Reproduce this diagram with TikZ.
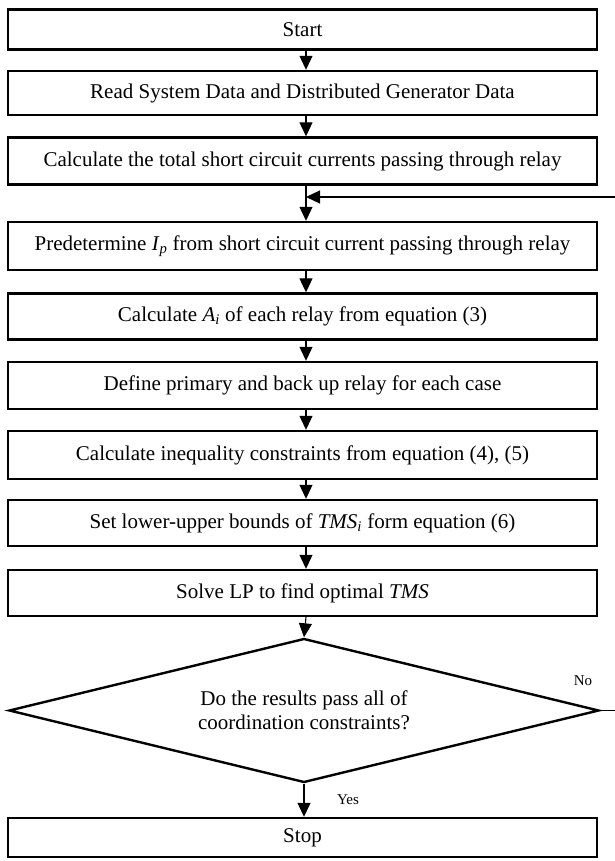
\documentclass[tikz,border=0pt]{standalone}
\usepackage{fontspec}
\setmainfont{Liberation Serif}
\usetikzlibrary{arrows.meta,shapes.geometric}

\begin{document}
\begin{tikzpicture}[x=1pt,y=-1pt,
    stepbox/.style={draw,line width=2.4pt,minimum width=589pt,minimum height=46pt,
      inner sep=0pt,font=\fontsize{21}{25}\selectfont},
    decision/.style={draw,diamond,line width=2.4pt,minimum width=590pt,minimum height=144pt,
      inner sep=0pt,aspect=4,align=center,font=\fontsize{21}{24}\selectfont},
    flow/.style={line width=1.1pt,-{Triangle[length=14pt,width=13pt]}},
    tag/.style={font=\fontsize{15}{17}\selectfont}]
  \def\midX{302.5};
  \def\arrX{306};
  \useasboundingbox (0,0) rectangle (614,861);
  \coordinate (axis)  at (\arrX,0);
  \coordinate (loop)  at (640,0);
  \coordinate (merge) at (\arrX,197);
  %
  \draw (\midX,29.5)  node[stepbox,minimum height=40pt] (start) {Start};
  \draw (\midX,93)    node[stepbox,minimum height=44pt] (read)  {Read System Data and Distributed Generator Data};
  \draw (\midX,161)   node[stepbox,minimum height=47pt] (total) {Calculate the total short circuit currents passing through relay};
  \draw (\midX,246)   node[stepbox,minimum height=48pt] (pred)  {Predetermine \textit{I}\textsubscript{\textit{p}} from short circuit current passing through relay};
  \draw (\midX,316.5) node[stepbox] (coefA) {Calculate \textit{A}\textsubscript{\textit{i}} of each relay from equation (3)};
  \draw (\midX,385.5) node[stepbox,minimum height=47pt] (pairs) {Define primary and back up relay for each case};
  \draw (\midX,455)   node[stepbox,minimum height=48pt] (ineq)  {Calculate inequality constraints from equation (4), (5)};
  \draw (\midX,523)   node[stepbox] (bounds) {Set lower-upper bounds of \textit{TMS}\textsubscript{\textit{i}} form equation (6)};
  \draw (\midX,593)   node[stepbox] (solve) {Solve LP to find optimal \textit{TMS}};
  \draw (304,710.5)   node[decision] (check) {Do the results pass all of\\coordination constraints?};
  \draw (\midX,837.5) node[stepbox,minimum height=39pt] (stop)  {Stop};
  %
  \draw (583,681) node[tag] (no)  {No};
  \draw (348,800) node[tag] (yes) {Yes};
  %
  \draw[flow] (start.south -| axis)  -- (read.north -| axis);
  \draw[flow] (read.south -| axis)   -- (total.north -| axis);
  \draw[flow] (total.south -| axis)  -- (pred.north -| axis);
  \draw[flow] (pred.south -| axis)   -- (coefA.north -| axis);
  \draw[flow] (coefA.south -| axis)  -- (pairs.north -| axis);
  \draw[flow] (pairs.south -| axis)  -- (ineq.north -| axis);
  \draw[flow] (ineq.south -| axis)   -- (bounds.north -| axis);
  \draw[flow] (bounds.south -| axis) -- (solve.north -| axis);
  \draw[flow] (solve.south -| axis)  -- (check.north);
  \draw[flow] (check.south) -- (check.south |- stop.north);
  \draw[flow] (check.east) -- (check.east -| loop) |- (merge);
\end{tikzpicture}
\end{document}
